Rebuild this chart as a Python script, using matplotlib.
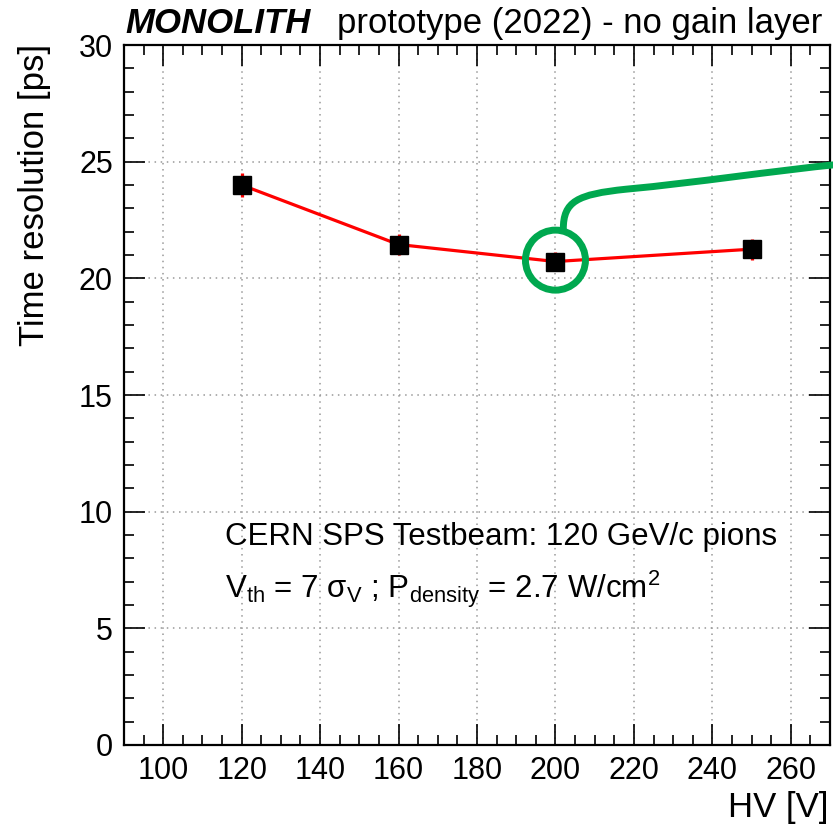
import matplotlib
matplotlib.use("Agg")
import matplotlib.pyplot as plt
from matplotlib.patches import Ellipse, PathPatch
from matplotlib.path import Path
from matplotlib.ticker import MultipleLocator

# data
hv = [120, 160, 200, 250]
time_res = [24.0, 21.45, 20.72, 21.25]
time_err = [0.5, 0.45, 0.4, 0.45]

plt.rcParams['font.family'] = ['Liberation Sans', 'DejaVu Sans']
plt.rcParams['mathtext.fontset'] = 'custom'
plt.rcParams['mathtext.rm'] = 'Liberation Sans'
plt.rcParams['mathtext.it'] = 'Liberation Sans:italic'

fig = plt.figure(figsize=(8.33, 8.35), dpi=100)
ax = fig.add_axes([124/833, 90/835, 706/833, 700/835])

ax.errorbar(hv, time_res, yerr=time_err, color='red', lw=2.3, ecolor='red',
            elinewidth=2.3, capsize=0, marker='s', ms=13, mfc='black',
            mec='black', zorder=3)

ax.set_xlim(90, 270)
ax.set_ylim(0, 30)
ax.xaxis.set_major_locator(MultipleLocator(20))
ax.xaxis.set_minor_locator(MultipleLocator(5))
ax.yaxis.set_major_locator(MultipleLocator(5))
ax.yaxis.set_minor_locator(MultipleLocator(1))
ax.tick_params(which='both', direction='in', top=True, right=True, width=1.2,
               labelsize=22)
ax.tick_params(which='major', length=15, pad=8)
ax.tick_params(which='minor', length=7.5)
for s in ax.spines.values():
    s.set_linewidth(1.6)
ax.grid(True, which='major', ls=(0, (1, 3)), color='#999999', lw=1.1)

# title, axis labels
fig.text(125/833, 1 - 33/835, 'MONOLITH', fontsize=25, fontweight='bold',
         fontstyle='italic', ha='left', va='baseline')
fig.text(822/833, 1 - 33/835, 'prototype (2022) - no gain layer', fontsize=25,
         ha='right', va='baseline')
fig.text(35/833, 1 - 44/835, 'Time resolution [ps]', fontsize=25,
         rotation=90, ha='center', va='top')
fig.text(829/833, 1 - 808/835, 'HV [V]', fontsize=25, ha='right', va='center')

ax.text(0.143, 0.286, 'CERN SPS Testbeam: 120 GeV/c pions', transform=ax.transAxes,
        fontsize=22.5, ha='left', va='baseline')
ax.text(0.143, 0.21,
        r'V$_{\mathrm{th}}$ = 7 σ$_{\mathrm{V}}$ ; P$_{\mathrm{density}}$ = 2.7 W/cm$^{2}$',
        transform=ax.transAxes, fontsize=22.5, ha='left', va='baseline')

# green highlight around the 200 V point
green = '#00a84f'
ax.add_patch(Ellipse((200, 20.78), 2*30/3.922, 2*30/23.33, fill=False,
                     ec=green, lw=5, clip_on=False, zorder=4))
verts = [(202.0, 22.1), (202.0, 23.3), (205.5, 23.6), (218.0, 23.82),
         (236, 24.1), (255, 24.6), (273, 24.9)]
codes = [Path.MOVETO] + [Path.CURVE4] * 6
ax.add_patch(PathPatch(Path(verts, codes), fill=False, ec=green, lw=5,
                       clip_on=False, capstyle='round', zorder=4))

fig.savefig('out.png', dpi=100)
